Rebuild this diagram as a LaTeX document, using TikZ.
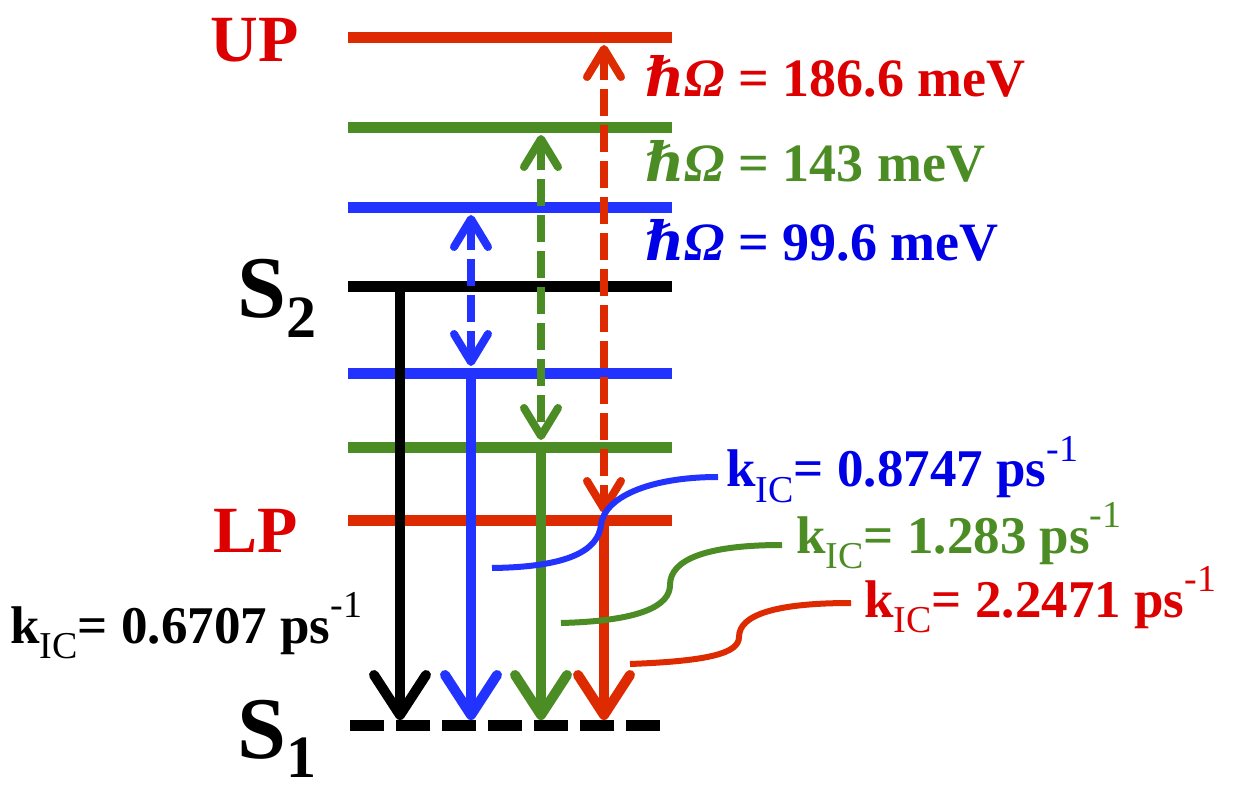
\documentclass[tikz,border=0pt]{standalone}
\usepackage{fontspec}
\setmainfont{Liberation Serif}
\newfontfamily\hbarfont{DejaVu Serif}
\usetikzlibrary{arrows.meta}
\definecolor{cred}{HTML}{DD2A00}
\definecolor{tred}{HTML}{DD0000}
\definecolor{cgreen}{HTML}{4C8C24}
\definecolor{cblue}{HTML}{2233FF}
\definecolor{tblue}{HTML}{0000E6}
\newcommand{\smallfnt}{\fontsize{19}{19}\mdseries\selectfont}
\newcommand{\kicl}[1]{\fontsize{26.5}{26.5}\bfseries\selectfont k\raisebox{-0.3em}{\smallfnt IC}= #1 ps\raisebox{0.48em}{\smallfnt -1}}
\newcommand{\hwl}[1]{\fontsize{27}{27}\bfseries\selectfont{\hbarfont\itshape ℏ}{\itshape Ω} = #1 meV}
\newcommand{\bigS}[1]{\fontsize{44}{44}\bfseries\selectfont S\raisebox{-0.22em}{\fontsize{30}{30}\selectfont #1}}
\begin{document}
\begin{tikzpicture}[x=0.5pt,y=-0.5pt,
  level/.style={line width=5.5pt},
  solidarr/.style={line width=5pt,-{Straight Barb[length=20pt,width=26pt,round]}},
  dasharr/.style={line width=4pt,dash pattern=on 13.5pt off 4.5pt,
     {Straight Barb[length=14pt,width=17pt,round]}-{Straight Barb[length=14pt,width=17pt,round]}},
  link/.style={line width=3pt},
  lbl/.style={inner sep=0pt,anchor=base west}]
\useasboundingbox (0,0) rectangle (1239,792);
% level coordinates
\coordinate (UPl) at (348,38);  \coordinate (UPr) at (672,38);
\coordinate (G2l) at (348,128); \coordinate (G2r) at (672,128);
\coordinate (B2l) at (348,208); \coordinate (B2r) at (672,208);
\coordinate (S2l) at (348,287); \coordinate (S2r) at (672,287);
\coordinate (B1l) at (348,373); \coordinate (B1r) at (672,373);
\coordinate (G1l) at (348,447); \coordinate (G1r) at (672,447);
\coordinate (LPl) at (348,520); \coordinate (LPr) at (672,520);
\coordinate (S1l) at (350,725); \coordinate (S1r) at (668,725);
% levels
\draw[level,cred] (UPl) -- (UPr);
\draw[level,cgreen] (G2l) -- (G2r);
\draw[level,cblue] (B2l) -- (B2r);
\draw[level,black] (S2l) -- (S2r);
\draw[level,cblue] (B1l) -- (B1r);
\draw[level,cgreen] (G1l) -- (G1r);
\draw[level,cred] (LPl) -- (LPr);
\draw[level,black,dash pattern=on 17pt off 6pt] (S1l) -- (S1r);
% state labels
\node[lbl,text=tred] (up) at (210,62) {\fontsize{33}{33}\bfseries\selectfont UP};
\node[lbl,text=tred] (lp) at (213,552) {\fontsize{33}{33}\bfseries\selectfont LP};
\node[lbl] (s2) at (237,318) {\bigS{2}};
\node[lbl] (s1) at (237,758) {\bigS{1}};
% vertical decay arrows
\coordinate (k0a) at (400,287); \coordinate (k0b) at (400,720);
\coordinate (kba) at (471,373); \coordinate (kbb) at (471,720);
\coordinate (kga) at (541,447); \coordinate (kgb) at (541,720);
\coordinate (kra) at (604,520); \coordinate (krb) at (604,720);
\draw[solidarr,black] (k0a) -- (k0b);
\draw[solidarr,cblue] (kba) -- (kbb);
\draw[solidarr,cgreen] (kga) -- (kgb);
\draw[solidarr,cred] (kra) -- (krb);
% dashed double arrows
\coordinate (db1) at (471,215); \coordinate (db2) at (471,366);
\coordinate (dg1) at (541,135); \coordinate (dg2) at (541,440);
\coordinate (dr1) at (604,45);  \coordinate (dr2) at (604,513);
\draw[dasharr,cblue] (db1) -- (db2);
\draw[dasharr,cgreen] (dg1) -- (dg2);
\draw[dasharr,cred] (dr1) -- (dr2);
% energy labels
\node[lbl,text=tred] (er) at (645,97) {\hwl{186.6}};
\node[lbl,text=cgreen] (eg) at (645,182) {\hwl{143}};
\node[lbl,text=tblue] (eb) at (645,261) {\hwl{99.6}};
% rate labels
\node[lbl,text=black] (rk) at (10,643) {\kicl{0.6707}};
\node[lbl,text=tblue] (rb) at (726,487) {\kicl{0.8747}};
\node[lbl,text=cgreen] (rg) at (796,553) {\kicl{1.283}};
\node[lbl,text=tred] (rr) at (864,617) {\kicl{2.2471}};
% connector curves
\coordinate (cb0) at (492,568); \coordinate (cb1) at (601,525); \coordinate (cb2) at (718,477);
\coordinate (cg0) at (561,623); \coordinate (cg1) at (670,585); \coordinate (cg2) at (782,545);
\coordinate (cr0) at (630,664); \coordinate (cr1) at (739,637); \coordinate (cr2) at (851,603);
\draw[link,cblue] (cb0) .. controls (570,567) and (598,550) .. (cb1)
  .. controls (604,497) and (650,477) .. (cb2);
\draw[link,cgreen] (cg0) .. controls (640,621) and (670,606) .. (cg1)
  .. controls (670,560) and (705,545) .. (cg2);
\draw[link,cred] (cr0) .. controls (710,661) and (739,653) .. (cr1)
  .. controls (739,615) and (775,603) .. (cr2);
\end{tikzpicture}
\end{document}
